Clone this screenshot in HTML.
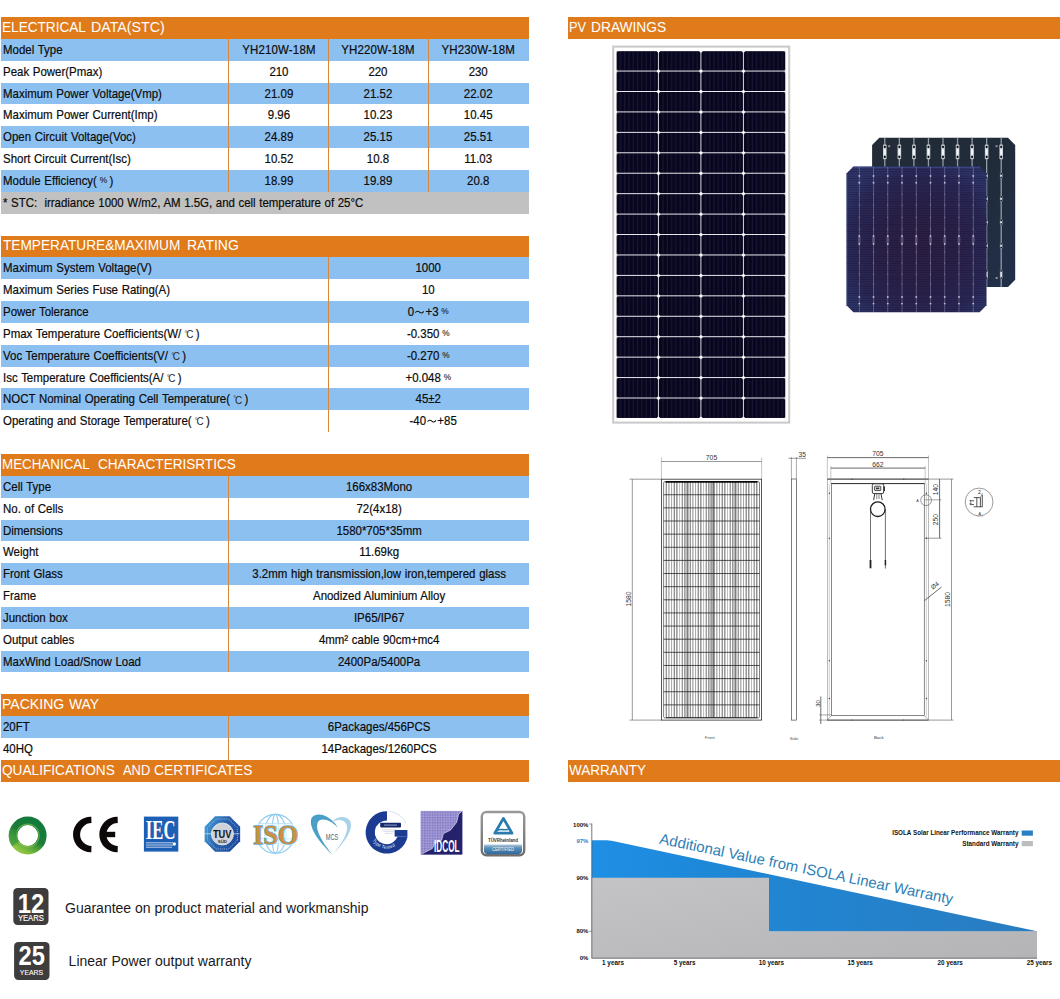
<!DOCTYPE html>
<html><head><meta charset="utf-8"><title>PV Datasheet</title>
<style>
html,body{margin:0;padding:0;background:#fff}
body{width:1060px;height:999px;position:relative;overflow:hidden;font-family:"Liberation Sans",sans-serif;color:#111}
.b{position:absolute}
.h{position:absolute;height:21.85px;line-height:21.85px;background:#E07B1C;color:#fff;font-size:14px;white-space:nowrap}
.h span{display:block;position:absolute;transform-origin:0 50%;top:-0.35px}
.t{position:absolute;height:21.85px;line-height:21.85px;font-size:12.2px;white-space:nowrap;word-spacing:0.55px;color:#0c0c0c;margin-top:1px;-webkit-text-stroke:0.2px #0c0c0c;transform:scaleX(0.940)}
.l{transform-origin:0 50%}
.c{text-align:center;transform-origin:50% 50%}
.deg{font-size:10.6px;-webkit-text-stroke:0;color:#2a2a2a;margin:0 2.5px 0 3.5px;position:relative;top:0.2px}
.deg i{font-style:normal;font-size:7.5px;position:relative;top:-2.2px;margin-right:-1.3px}
.pct{font-size:8.8px;margin-left:3px;-webkit-text-stroke:0.1px #222;color:#222;position:relative;top:-1.6px}
.til{display:inline-block;vertical-align:1.5px;margin:0 1px}
svg.a{position:absolute;overflow:visible}
.g{position:absolute;white-space:nowrap;font-size:14px;color:#1a1a1a}
</style></head><body>
<div class="h" style="left:1.00px;top:17.00px;width:527.70px"><span style="left:1.01px;transform:scaleX(0.9711)">ELECTRICAL</span><span style="left:90.26px;transform:scaleX(1.0152)">DATA(STC)</span></div>
<div class="b" style="left:1.00px;top:38.85px;width:527.70px;height:21.85px;background:#8CC0F0"></div>
<div class="t l" style="left:2.7px;top:38.85px">Model Type</div>
<div class="t c" style="left:228.50px;top:38.85px;width:99.90px"><span style="letter-spacing:0.17px">YH210W-18M</span></div>
<div class="t c" style="left:328.40px;top:38.85px;width:99.90px"><span style="letter-spacing:0.17px">YH220W-18M</span></div>
<div class="t c" style="left:428.30px;top:38.85px;width:100.40px"><span style="letter-spacing:0.17px">YH230W-18M</span></div>
<div class="t l" style="left:2.7px;top:60.70px">Peak Power(Pmax)</div>
<div class="t c" style="left:228.50px;top:60.70px;width:99.90px">210</div>
<div class="t c" style="left:328.40px;top:60.70px;width:99.90px">220</div>
<div class="t c" style="left:428.30px;top:60.70px;width:100.40px">230</div>
<div class="b" style="left:1.00px;top:82.55px;width:527.70px;height:21.85px;background:#8CC0F0"></div>
<div class="t l" style="left:2.7px;top:82.55px">Maximum Power Voltage(Vmp)</div>
<div class="t c" style="left:228.50px;top:82.55px;width:99.90px">21.09</div>
<div class="t c" style="left:328.40px;top:82.55px;width:99.90px">21.52</div>
<div class="t c" style="left:428.30px;top:82.55px;width:100.40px">22.02</div>
<div class="t l" style="left:2.7px;top:104.40px">Maximum Power Current(Imp)</div>
<div class="t c" style="left:228.50px;top:104.40px;width:99.90px">9.96</div>
<div class="t c" style="left:328.40px;top:104.40px;width:99.90px">10.23</div>
<div class="t c" style="left:428.30px;top:104.40px;width:100.40px">10.45</div>
<div class="b" style="left:1.00px;top:126.25px;width:527.70px;height:21.85px;background:#8CC0F0"></div>
<div class="t l" style="left:2.7px;top:126.25px">Open Circuit Voltage(Voc)</div>
<div class="t c" style="left:228.50px;top:126.25px;width:99.90px">24.89</div>
<div class="t c" style="left:328.40px;top:126.25px;width:99.90px">25.15</div>
<div class="t c" style="left:428.30px;top:126.25px;width:100.40px">25.51</div>
<div class="t l" style="left:2.7px;top:148.10px">Short Circuit Current(Isc)</div>
<div class="t c" style="left:228.50px;top:148.10px;width:99.90px">10.52</div>
<div class="t c" style="left:328.40px;top:148.10px;width:99.90px">10.8</div>
<div class="t c" style="left:428.30px;top:148.10px;width:100.40px">11.03</div>
<div class="b" style="left:1.00px;top:169.95px;width:527.70px;height:21.85px;background:#8CC0F0"></div>
<div class="t l" style="left:2.7px;top:169.95px">Module Efficiency(<span class="pct">%</span>&#8201;)</div>
<div class="t c" style="left:228.50px;top:169.95px;width:99.90px">18.99</div>
<div class="t c" style="left:328.40px;top:169.95px;width:99.90px">19.89</div>
<div class="t c" style="left:428.30px;top:169.95px;width:100.40px">20.8</div>
<div class="b" style="left:227.90px;top:38.85px;width:1.20px;height:152.95px;background:#D9873A"></div>
<div class="b" style="left:327.80px;top:38.85px;width:1.20px;height:152.95px;background:#D9873A"></div>
<div class="b" style="left:427.70px;top:38.85px;width:1.20px;height:152.95px;background:#D9873A"></div>
<div class="b" style="left:1.00px;top:191.80px;width:527.70px;height:21.85px;background:#C1C1C1"></div>
<div class="t l" style="left:2.5px;top:191.80px;transform:scaleX(0.938);word-spacing:0.5px">* STC:&nbsp; irradiance 1000 W/m2, AM 1.5G, and cell temperature of 25&#176;C</div>
<div class="h" style="left:1.00px;top:235.50px;width:527.70px"><span style="left:1.73px;transform:scaleX(0.9753)">TEMPERATURE&amp;MAXIMUM</span><span style="left:186.48px;transform:scaleX(0.9995)">RATING</span></div>
<div class="b" style="left:1.00px;top:257.35px;width:527.70px;height:21.85px;background:#8CC0F0"></div>
<div class="t l" style="left:2.7px;top:257.35px">Maximum System Voltage(V)</div>
<div class="t c" style="left:328.20px;top:257.35px;width:200.50px">1000</div>
<div class="t l" style="left:2.7px;top:279.20px">Maximum Series Fuse Rating(A)</div>
<div class="t c" style="left:328.20px;top:279.20px;width:200.50px">10</div>
<div class="b" style="left:1.00px;top:301.05px;width:527.70px;height:21.85px;background:#8CC0F0"></div>
<div class="t l" style="left:2.7px;top:301.05px">Power Tolerance</div>
<div class="t c" style="left:328.20px;top:301.05px;width:200.50px">0<svg class="til" width="10" height="6" viewBox="0 0 10 6"><path d="M0.5 3.7C2 1.8 3.6 1.9 5 3.1S8 4.4 9.5 2.4" stroke="#111" stroke-width="1.05" fill="none"/></svg>+3<span class="pct">%</span></div>
<div class="t l" style="left:2.7px;top:322.90px">Pmax Temperature Coefficients(W/<span class="deg"><i>&#176;</i>C</span>)</div>
<div class="t c" style="left:328.20px;top:322.90px;width:200.50px">-0.350<span class="pct">%</span></div>
<div class="b" style="left:1.00px;top:344.75px;width:527.70px;height:21.85px;background:#8CC0F0"></div>
<div class="t l" style="left:2.7px;top:344.75px">Voc Temperature Coefficients(V/<span class="deg"><i>&#176;</i>C</span>)</div>
<div class="t c" style="left:328.20px;top:344.75px;width:200.50px">-0.270<span class="pct">%</span></div>
<div class="t l" style="left:2.7px;top:366.60px">Isc Temperature Coefficients(A/<span class="deg"><i>&#176;</i>C</span>)</div>
<div class="t c" style="left:328.20px;top:366.60px;width:200.50px">+0.048<span class="pct">%</span></div>
<div class="b" style="left:1.00px;top:388.45px;width:527.70px;height:21.85px;background:#8CC0F0"></div>
<div class="t l" style="left:2.7px;top:388.45px">NOCT Nominal Operating Cell Temperature(<span class="deg"><i>&#176;</i>C</span>)</div>
<div class="t c" style="left:328.20px;top:388.45px;width:200.50px">45&#177;2</div>
<div class="t l" style="left:2.7px;top:410.30px">Operating and Storage Temperature(<span class="deg"><i>&#176;</i>C</span>)</div>
<div class="t c" style="left:328.20px;top:410.30px;width:200.50px"><span style="padding-left:10.4px">-40<svg class="til" width="10" height="6" viewBox="0 0 10 6"><path d="M0.5 3.7C2 1.8 3.6 1.9 5 3.1S8 4.4 9.5 2.4" stroke="#111" stroke-width="1.05" fill="none"/></svg>+85</span></div>
<div class="b" style="left:327.60px;top:257.35px;width:1.20px;height:174.80px;background:#D9873A"></div>
<div class="h" style="left:1.00px;top:454.00px;width:527.70px"><span style="left:1.03px;transform:scaleX(0.9551)">MECHANICAL</span><span style="left:96.57px;transform:scaleX(0.9698)">CHARACTERISRTICS</span></div>
<div class="b" style="left:1.00px;top:475.85px;width:527.70px;height:21.85px;background:#8CC0F0"></div>
<div class="t l" style="left:2.7px;top:475.85px">Cell Type</div>
<div class="t c" style="left:228.50px;top:475.85px;width:300.20px">166x83Mono</div>
<div class="t l" style="left:2.7px;top:497.70px">No. of Cells</div>
<div class="t c" style="left:228.50px;top:497.70px;width:300.20px">72(4x18)</div>
<div class="b" style="left:1.00px;top:519.55px;width:527.70px;height:21.85px;background:#8CC0F0"></div>
<div class="t l" style="left:2.7px;top:519.55px">Dimensions</div>
<div class="t c" style="left:228.50px;top:519.55px;width:300.20px">1580*705*35mm</div>
<div class="t l" style="left:2.7px;top:541.40px">Weight</div>
<div class="t c" style="left:228.50px;top:541.40px;width:300.20px">11.69kg</div>
<div class="b" style="left:1.00px;top:563.25px;width:527.70px;height:21.85px;background:#8CC0F0"></div>
<div class="t l" style="left:2.7px;top:563.25px">Front Glass</div>
<div class="t c" style="left:228.50px;top:563.25px;width:300.20px">3.2mm high transmission,low iron,tempered glass</div>
<div class="t l" style="left:2.7px;top:585.10px">Frame</div>
<div class="t c" style="left:228.50px;top:585.10px;width:300.20px">Anodized Aluminium Alloy</div>
<div class="b" style="left:1.00px;top:606.95px;width:527.70px;height:21.85px;background:#8CC0F0"></div>
<div class="t l" style="left:2.7px;top:606.95px">Junction box</div>
<div class="t c" style="left:228.50px;top:606.95px;width:300.20px">IP65/IP67</div>
<div class="t l" style="left:2.7px;top:628.80px">Output cables</div>
<div class="t c" style="left:228.50px;top:628.80px;width:300.20px">4mm&#178; cable 90cm+mc4</div>
<div class="b" style="left:1.00px;top:650.65px;width:527.70px;height:21.85px;background:#8CC0F0"></div>
<div class="t l" style="left:2.7px;top:650.65px">MaxWind Load/Snow Load</div>
<div class="t c" style="left:228.50px;top:650.65px;width:300.20px">2400Pa/5400Pa</div>
<div class="b" style="left:227.90px;top:475.85px;width:1.20px;height:196.65px;background:#D9873A"></div>
<div class="h" style="left:1.00px;top:694.35px;width:527.70px"><span style="left:0.97px;transform:scaleX(1.0042)">PACKING</span><span style="left:67.78px;transform:scaleX(0.9941)">WAY</span></div>
<div class="b" style="left:1.00px;top:716.20px;width:527.70px;height:21.85px;background:#8CC0F0"></div>
<div class="t l" style="left:2.7px;top:716.20px">20FT</div>
<div class="t c" style="left:228.50px;top:716.20px;width:300.20px">6Packages/456PCS</div>
<div class="t l" style="left:2.7px;top:738.05px">40HQ</div>
<div class="t c" style="left:228.50px;top:738.05px;width:300.20px">14Packages/1260PCS</div>
<div class="b" style="left:227.90px;top:716.20px;width:1.20px;height:43.70px;background:#D9873A"></div>
<div class="h" style="left:1.00px;top:759.90px;width:527.70px"><span style="left:1.49px;transform:scaleX(0.9749)">QUALIFICATIONS</span><span style="left:121.80px;transform:scaleX(0.9212)">AND</span><span style="left:153.46px;transform:scaleX(0.9868)">CERTIFICATES</span></div>
<div class="h" style="left:567.50px;top:17.00px;width:492.50px"><span style="left:1.87px;transform:scaleX(0.9143)">PV</span><span style="left:23.89px;transform:scaleX(0.9833)">DRAWINGS</span></div>
<div class="h" style="left:567.50px;top:759.90px;width:492.50px"><span style="left:1.98px;transform:scaleX(0.9668)">WARRANTY</span></div>
<svg class="a" style="left:0;top:0" width="1060" height="440" viewBox="0 0 1060 440">
<defs><pattern id="pc" x="616.40" y="51.10" width="42.500" height="20.435" patternUnits="userSpaceOnUse">
<rect x="0" y="0" width="41.60" height="19.58" rx="1.6" fill="#07061d"/>
<rect x="3.60" y="0.4" width="0.9" height="18.73" fill="#1b1a3c"/>
<rect x="7.90" y="0.4" width="0.9" height="18.73" fill="#1b1a3c"/>
<rect x="12.20" y="0.4" width="0.9" height="18.73" fill="#1b1a3c"/>
<rect x="16.50" y="0.4" width="0.9" height="18.73" fill="#1b1a3c"/>
<rect x="20.80" y="0.4" width="0.9" height="18.73" fill="#1b1a3c"/>
<rect x="25.10" y="0.4" width="0.9" height="18.73" fill="#1b1a3c"/>
<rect x="29.40" y="0.4" width="0.9" height="18.73" fill="#1b1a3c"/>
<rect x="33.70" y="0.4" width="0.9" height="18.73" fill="#1b1a3c"/>
<rect x="38.00" y="0.4" width="0.9" height="18.73" fill="#1b1a3c"/>
</pattern></defs>
<rect x="613.2" y="46.6" width="176" height="376" fill="#fff" stroke="#c9c9c9" stroke-width="2"/>
<rect x="616.40" y="51.10" width="169.10" height="366.98" fill="#eeeef4"/>
<rect x="616.40" y="51.10" width="169.10" height="366.98" fill="url(#pc)"/>
<path d="M658.45 69.41l1.9 1.7l-1.9 1.7l-1.9 -1.7zM658.45 89.85l1.9 1.7l-1.9 1.7l-1.9 -1.7zM658.45 110.28l1.9 1.7l-1.9 1.7l-1.9 -1.7zM658.45 130.72l1.9 1.7l-1.9 1.7l-1.9 -1.7zM658.45 151.16l1.9 1.7l-1.9 1.7l-1.9 -1.7zM658.45 171.59l1.9 1.7l-1.9 1.7l-1.9 -1.7zM658.45 192.03l1.9 1.7l-1.9 1.7l-1.9 -1.7zM658.45 212.46l1.9 1.7l-1.9 1.7l-1.9 -1.7zM658.45 232.90l1.9 1.7l-1.9 1.7l-1.9 -1.7zM658.45 253.33l1.9 1.7l-1.9 1.7l-1.9 -1.7zM658.45 273.76l1.9 1.7l-1.9 1.7l-1.9 -1.7zM658.45 294.20l1.9 1.7l-1.9 1.7l-1.9 -1.7zM658.45 314.63l1.9 1.7l-1.9 1.7l-1.9 -1.7zM658.45 335.07l1.9 1.7l-1.9 1.7l-1.9 -1.7zM658.45 355.50l1.9 1.7l-1.9 1.7l-1.9 -1.7zM658.45 375.94l1.9 1.7l-1.9 1.7l-1.9 -1.7zM658.45 396.38l1.9 1.7l-1.9 1.7l-1.9 -1.7zM658.45 51.10l1.6 0l-1.6 1.6l-1.6 -1.6zM658.45 418.08l1.6 0l-1.6 -1.6l-1.6 1.6zM700.95 69.41l1.9 1.7l-1.9 1.7l-1.9 -1.7zM700.95 89.85l1.9 1.7l-1.9 1.7l-1.9 -1.7zM700.95 110.28l1.9 1.7l-1.9 1.7l-1.9 -1.7zM700.95 130.72l1.9 1.7l-1.9 1.7l-1.9 -1.7zM700.95 151.16l1.9 1.7l-1.9 1.7l-1.9 -1.7zM700.95 171.59l1.9 1.7l-1.9 1.7l-1.9 -1.7zM700.95 192.03l1.9 1.7l-1.9 1.7l-1.9 -1.7zM700.95 212.46l1.9 1.7l-1.9 1.7l-1.9 -1.7zM700.95 232.90l1.9 1.7l-1.9 1.7l-1.9 -1.7zM700.95 253.33l1.9 1.7l-1.9 1.7l-1.9 -1.7zM700.95 273.76l1.9 1.7l-1.9 1.7l-1.9 -1.7zM700.95 294.20l1.9 1.7l-1.9 1.7l-1.9 -1.7zM700.95 314.63l1.9 1.7l-1.9 1.7l-1.9 -1.7zM700.95 335.07l1.9 1.7l-1.9 1.7l-1.9 -1.7zM700.95 355.50l1.9 1.7l-1.9 1.7l-1.9 -1.7zM700.95 375.94l1.9 1.7l-1.9 1.7l-1.9 -1.7zM700.95 396.38l1.9 1.7l-1.9 1.7l-1.9 -1.7zM700.95 51.10l1.6 0l-1.6 1.6l-1.6 -1.6zM700.95 418.08l1.6 0l-1.6 -1.6l-1.6 1.6zM743.45 69.41l1.9 1.7l-1.9 1.7l-1.9 -1.7zM743.45 89.85l1.9 1.7l-1.9 1.7l-1.9 -1.7zM743.45 110.28l1.9 1.7l-1.9 1.7l-1.9 -1.7zM743.45 130.72l1.9 1.7l-1.9 1.7l-1.9 -1.7zM743.45 151.16l1.9 1.7l-1.9 1.7l-1.9 -1.7zM743.45 171.59l1.9 1.7l-1.9 1.7l-1.9 -1.7zM743.45 192.03l1.9 1.7l-1.9 1.7l-1.9 -1.7zM743.45 212.46l1.9 1.7l-1.9 1.7l-1.9 -1.7zM743.45 232.90l1.9 1.7l-1.9 1.7l-1.9 -1.7zM743.45 253.33l1.9 1.7l-1.9 1.7l-1.9 -1.7zM743.45 273.76l1.9 1.7l-1.9 1.7l-1.9 -1.7zM743.45 294.20l1.9 1.7l-1.9 1.7l-1.9 -1.7zM743.45 314.63l1.9 1.7l-1.9 1.7l-1.9 -1.7zM743.45 335.07l1.9 1.7l-1.9 1.7l-1.9 -1.7zM743.45 355.50l1.9 1.7l-1.9 1.7l-1.9 -1.7zM743.45 375.94l1.9 1.7l-1.9 1.7l-1.9 -1.7zM743.45 396.38l1.9 1.7l-1.9 1.7l-1.9 -1.7zM743.45 51.10l1.6 0l-1.6 1.6l-1.6 -1.6zM743.45 418.08l1.6 0l-1.6 -1.6l-1.6 1.6z" fill="#fff"/>
</svg>
<svg class="a" style="left:0;top:0" width="1060" height="440" viewBox="0 0 1060 440">
<defs>
<linearGradient id="bk" x1="0" y1="0" x2="1" y2="1"><stop offset="0" stop-color="#232c37"/><stop offset="0.5" stop-color="#202b3a"/><stop offset="1" stop-color="#222f4a"/></linearGradient>
<radialGradient id="fr" cx="0.52" cy="0.55" r="0.62"><stop offset="0" stop-color="#2c1d42"/><stop offset="0.45" stop-color="#2a2048"/><stop offset="0.8" stop-color="#292756"/><stop offset="1" stop-color="#2d3367"/></radialGradient>
<pattern id="fing" x="0" y="166.6" width="10" height="2.3" patternUnits="userSpaceOnUse"><rect x="0" y="0" width="10" height="0.8" fill="#15102c" opacity="0.35"/></pattern>
<clipPath id="fclip"><path d="M853.4 166.6H979.6L986.5 173.6V305.2L979.6 312.3H853.4L846.5 305.2V173.6Z"/></clipPath>
</defs>
<path d="M879.3 137.7H1008.0L1015.2 144.9V279.8L1008.0 287.0H879.3L872.1 279.8V144.9Z" fill="url(#bk)"/>
<rect x="884.15" y="137.7" width="1.3" height="149.3" fill="#9da7af" opacity="0.9"/>
<rect x="883.00" y="144.6" width="3.6" height="14.6" rx="0.8" fill="#c4cbd0"/>
<rect x="883.80" y="149.2" width="2" height="5.6" fill="#f4f6f7"/>
<circle cx="884.80" cy="146.9" r="1.05" fill="#0b0f14"/><circle cx="884.80" cy="156.9" r="1.05" fill="#0b0f14"/>
<rect x="898.70" y="137.7" width="1.3" height="149.3" fill="#9da7af" opacity="0.9"/>
<rect x="897.55" y="144.6" width="3.6" height="14.6" rx="0.8" fill="#c4cbd0"/>
<rect x="898.35" y="149.2" width="2" height="5.6" fill="#f4f6f7"/>
<circle cx="899.35" cy="146.9" r="1.05" fill="#0b0f14"/><circle cx="899.35" cy="156.9" r="1.05" fill="#0b0f14"/>
<rect x="913.25" y="137.7" width="1.3" height="149.3" fill="#9da7af" opacity="0.9"/>
<rect x="912.10" y="144.6" width="3.6" height="14.6" rx="0.8" fill="#c4cbd0"/>
<rect x="912.90" y="149.2" width="2" height="5.6" fill="#f4f6f7"/>
<circle cx="913.90" cy="146.9" r="1.05" fill="#0b0f14"/><circle cx="913.90" cy="156.9" r="1.05" fill="#0b0f14"/>
<rect x="927.80" y="137.7" width="1.3" height="149.3" fill="#9da7af" opacity="0.9"/>
<rect x="926.65" y="144.6" width="3.6" height="14.6" rx="0.8" fill="#c4cbd0"/>
<rect x="927.45" y="149.2" width="2" height="5.6" fill="#f4f6f7"/>
<circle cx="928.45" cy="146.9" r="1.05" fill="#0b0f14"/><circle cx="928.45" cy="156.9" r="1.05" fill="#0b0f14"/>
<rect x="942.35" y="137.7" width="1.3" height="149.3" fill="#9da7af" opacity="0.9"/>
<rect x="941.20" y="144.6" width="3.6" height="14.6" rx="0.8" fill="#c4cbd0"/>
<rect x="942.00" y="149.2" width="2" height="5.6" fill="#f4f6f7"/>
<circle cx="943.00" cy="146.9" r="1.05" fill="#0b0f14"/><circle cx="943.00" cy="156.9" r="1.05" fill="#0b0f14"/>
<rect x="956.90" y="137.7" width="1.3" height="149.3" fill="#9da7af" opacity="0.9"/>
<rect x="955.75" y="144.6" width="3.6" height="14.6" rx="0.8" fill="#c4cbd0"/>
<rect x="956.55" y="149.2" width="2" height="5.6" fill="#f4f6f7"/>
<circle cx="957.55" cy="146.9" r="1.05" fill="#0b0f14"/><circle cx="957.55" cy="156.9" r="1.05" fill="#0b0f14"/>
<rect x="971.45" y="137.7" width="1.3" height="149.3" fill="#9da7af" opacity="0.9"/>
<rect x="970.30" y="144.6" width="3.6" height="14.6" rx="0.8" fill="#c4cbd0"/>
<rect x="971.10" y="149.2" width="2" height="5.6" fill="#f4f6f7"/>
<circle cx="972.10" cy="146.9" r="1.05" fill="#0b0f14"/><circle cx="972.10" cy="156.9" r="1.05" fill="#0b0f14"/>
<rect x="986.00" y="137.7" width="1.3" height="149.3" fill="#9da7af" opacity="0.9"/>
<rect x="984.85" y="144.6" width="3.6" height="14.6" rx="0.8" fill="#c4cbd0"/>
<rect x="985.65" y="149.2" width="2" height="5.6" fill="#f4f6f7"/>
<circle cx="986.65" cy="146.9" r="1.05" fill="#0b0f14"/><circle cx="986.65" cy="156.9" r="1.05" fill="#0b0f14"/>
<rect x="985.35" y="173.0" width="2.6" height="5.4" rx="0.7" fill="#98a2aa"/>
<rect x="985.95" y="174.7" width="1.4" height="2.0" fill="#dfe4e8"/>
<circle cx="986.65" cy="173.9" r="0.8" fill="#0b0f14"/><circle cx="986.65" cy="177.5" r="0.8" fill="#0b0f14"/>
<rect x="985.35" y="196.0" width="2.6" height="5.4" rx="0.7" fill="#98a2aa"/>
<rect x="985.95" y="197.7" width="1.4" height="2.0" fill="#dfe4e8"/>
<circle cx="986.65" cy="196.9" r="0.8" fill="#0b0f14"/><circle cx="986.65" cy="200.5" r="0.8" fill="#0b0f14"/>
<rect x="985.35" y="219.5" width="2.6" height="5.4" rx="0.7" fill="#98a2aa"/>
<rect x="985.95" y="221.2" width="1.4" height="2.0" fill="#dfe4e8"/>
<circle cx="986.65" cy="220.4" r="0.8" fill="#0b0f14"/><circle cx="986.65" cy="224.0" r="0.8" fill="#0b0f14"/>
<rect x="985.35" y="243.0" width="2.6" height="5.4" rx="0.7" fill="#98a2aa"/>
<rect x="985.95" y="244.7" width="1.4" height="2.0" fill="#dfe4e8"/>
<circle cx="986.65" cy="243.9" r="0.8" fill="#0b0f14"/><circle cx="986.65" cy="247.5" r="0.8" fill="#0b0f14"/>
<rect x="985.35" y="270.0" width="2.6" height="9.0" rx="0.7" fill="#98a2aa"/>
<rect x="985.95" y="271.7" width="1.4" height="5.6" fill="#dfe4e8"/>
<circle cx="986.65" cy="270.9" r="0.8" fill="#0b0f14"/><circle cx="986.65" cy="278.1" r="0.8" fill="#0b0f14"/>
<rect x="1000.55" y="137.7" width="1.3" height="149.3" fill="#9da7af" opacity="0.9"/>
<rect x="999.40" y="144.6" width="3.6" height="14.6" rx="0.8" fill="#c4cbd0"/>
<rect x="1000.20" y="149.2" width="2" height="5.6" fill="#f4f6f7"/>
<circle cx="1001.20" cy="146.9" r="1.05" fill="#0b0f14"/><circle cx="1001.20" cy="156.9" r="1.05" fill="#0b0f14"/>
<rect x="999.90" y="173.0" width="2.6" height="5.4" rx="0.7" fill="#98a2aa"/>
<rect x="1000.50" y="174.7" width="1.4" height="2.0" fill="#dfe4e8"/>
<circle cx="1001.20" cy="173.9" r="0.8" fill="#0b0f14"/><circle cx="1001.20" cy="177.5" r="0.8" fill="#0b0f14"/>
<rect x="999.90" y="196.0" width="2.6" height="5.4" rx="0.7" fill="#98a2aa"/>
<rect x="1000.50" y="197.7" width="1.4" height="2.0" fill="#dfe4e8"/>
<circle cx="1001.20" cy="196.9" r="0.8" fill="#0b0f14"/><circle cx="1001.20" cy="200.5" r="0.8" fill="#0b0f14"/>
<rect x="999.90" y="219.5" width="2.6" height="5.4" rx="0.7" fill="#98a2aa"/>
<rect x="1000.50" y="221.2" width="1.4" height="2.0" fill="#dfe4e8"/>
<circle cx="1001.20" cy="220.4" r="0.8" fill="#0b0f14"/><circle cx="1001.20" cy="224.0" r="0.8" fill="#0b0f14"/>
<rect x="999.90" y="243.0" width="2.6" height="5.4" rx="0.7" fill="#98a2aa"/>
<rect x="1000.50" y="244.7" width="1.4" height="2.0" fill="#dfe4e8"/>
<circle cx="1001.20" cy="243.9" r="0.8" fill="#0b0f14"/><circle cx="1001.20" cy="247.5" r="0.8" fill="#0b0f14"/>
<rect x="999.90" y="270.0" width="2.6" height="9.0" rx="0.7" fill="#98a2aa"/>
<rect x="1000.50" y="271.7" width="1.4" height="5.6" fill="#dfe4e8"/>
<circle cx="1001.20" cy="270.9" r="0.8" fill="#0b0f14"/><circle cx="1001.20" cy="278.1" r="0.8" fill="#0b0f14"/>
<rect x="888.2" y="145.2" width="2" height="2" fill="#8a949c"/><rect x="995.6" y="145.2" width="2" height="2" fill="#8a949c"/><rect x="995.6" y="277" width="2" height="2" fill="#8a949c"/>
<path d="M853.4 166.6H979.6L986.5 173.6V305.2L979.6 312.3H853.4L846.5 305.2V173.6Z" fill="url(#fr)"/>
<g clip-path="url(#fclip)">
<rect x="846" y="166" width="142" height="147" fill="url(#fing)"/>
<rect x="846" y="166.4" width="142" height="1.6" fill="#46549a" opacity="0.55"/>
<rect x="846.3" y="166" width="1.4" height="147" fill="#3b4a8c" opacity="0.55"/>
<rect x="858.90" y="166.6" width="0.8" height="145.7" fill="#a8a3cc" opacity="0.5"/>
<circle cx="859.30" cy="176.0" r="0.95" fill="#d9d6ee" opacity="0.8"/>
<circle cx="859.30" cy="182.8" r="0.95" fill="#d9d6ee" opacity="0.8"/>
<circle cx="859.30" cy="194.0" r="0.60" fill="#d9d6ee" opacity="0.45"/>
<circle cx="859.30" cy="205.0" r="0.60" fill="#d9d6ee" opacity="0.45"/>
<circle cx="859.30" cy="217.5" r="0.60" fill="#d9d6ee" opacity="0.45"/>
<circle cx="859.30" cy="229.0" r="0.60" fill="#d9d6ee" opacity="0.45"/>
<circle cx="859.30" cy="236.0" r="0.95" fill="#d9d6ee" opacity="0.8"/>
<circle cx="859.30" cy="244.0" r="0.95" fill="#d9d6ee" opacity="0.8"/>
<circle cx="859.30" cy="252.0" r="0.60" fill="#d9d6ee" opacity="0.45"/>
<circle cx="859.30" cy="263.0" r="0.60" fill="#d9d6ee" opacity="0.45"/>
<circle cx="859.30" cy="274.0" r="0.60" fill="#d9d6ee" opacity="0.45"/>
<circle cx="859.30" cy="284.0" r="0.60" fill="#d9d6ee" opacity="0.45"/>
<circle cx="859.30" cy="297.0" r="0.95" fill="#d9d6ee" opacity="0.8"/>
<circle cx="859.30" cy="303.6" r="0.95" fill="#d9d6ee" opacity="0.8"/>
<rect x="858.40" y="237" width="1.8" height="6" rx="0.6" fill="none" stroke="#b7b3d6" stroke-width="0.4" opacity="0.8"/>
<rect x="873.14" y="166.6" width="0.8" height="145.7" fill="#a8a3cc" opacity="0.5"/>
<circle cx="873.54" cy="176.0" r="0.95" fill="#d9d6ee" opacity="0.8"/>
<circle cx="873.54" cy="182.8" r="0.95" fill="#d9d6ee" opacity="0.8"/>
<circle cx="873.54" cy="194.0" r="0.60" fill="#d9d6ee" opacity="0.45"/>
<circle cx="873.54" cy="205.0" r="0.60" fill="#d9d6ee" opacity="0.45"/>
<circle cx="873.54" cy="217.5" r="0.60" fill="#d9d6ee" opacity="0.45"/>
<circle cx="873.54" cy="229.0" r="0.60" fill="#d9d6ee" opacity="0.45"/>
<circle cx="873.54" cy="236.0" r="0.95" fill="#d9d6ee" opacity="0.8"/>
<circle cx="873.54" cy="244.0" r="0.95" fill="#d9d6ee" opacity="0.8"/>
<circle cx="873.54" cy="252.0" r="0.60" fill="#d9d6ee" opacity="0.45"/>
<circle cx="873.54" cy="263.0" r="0.60" fill="#d9d6ee" opacity="0.45"/>
<circle cx="873.54" cy="274.0" r="0.60" fill="#d9d6ee" opacity="0.45"/>
<circle cx="873.54" cy="284.0" r="0.60" fill="#d9d6ee" opacity="0.45"/>
<circle cx="873.54" cy="297.0" r="0.95" fill="#d9d6ee" opacity="0.8"/>
<circle cx="873.54" cy="303.6" r="0.95" fill="#d9d6ee" opacity="0.8"/>
<rect x="872.64" y="237" width="1.8" height="6" rx="0.6" fill="none" stroke="#b7b3d6" stroke-width="0.4" opacity="0.8"/>
<rect x="887.38" y="166.6" width="0.8" height="145.7" fill="#a8a3cc" opacity="0.5"/>
<circle cx="887.78" cy="176.0" r="0.95" fill="#d9d6ee" opacity="0.8"/>
<circle cx="887.78" cy="182.8" r="0.95" fill="#d9d6ee" opacity="0.8"/>
<circle cx="887.78" cy="194.0" r="0.60" fill="#d9d6ee" opacity="0.45"/>
<circle cx="887.78" cy="205.0" r="0.60" fill="#d9d6ee" opacity="0.45"/>
<circle cx="887.78" cy="217.5" r="0.60" fill="#d9d6ee" opacity="0.45"/>
<circle cx="887.78" cy="229.0" r="0.60" fill="#d9d6ee" opacity="0.45"/>
<circle cx="887.78" cy="236.0" r="0.95" fill="#d9d6ee" opacity="0.8"/>
<circle cx="887.78" cy="244.0" r="0.95" fill="#d9d6ee" opacity="0.8"/>
<circle cx="887.78" cy="252.0" r="0.60" fill="#d9d6ee" opacity="0.45"/>
<circle cx="887.78" cy="263.0" r="0.60" fill="#d9d6ee" opacity="0.45"/>
<circle cx="887.78" cy="274.0" r="0.60" fill="#d9d6ee" opacity="0.45"/>
<circle cx="887.78" cy="284.0" r="0.60" fill="#d9d6ee" opacity="0.45"/>
<circle cx="887.78" cy="297.0" r="0.95" fill="#d9d6ee" opacity="0.8"/>
<circle cx="887.78" cy="303.6" r="0.95" fill="#d9d6ee" opacity="0.8"/>
<rect x="886.88" y="237" width="1.8" height="6" rx="0.6" fill="none" stroke="#b7b3d6" stroke-width="0.4" opacity="0.8"/>
<rect x="901.62" y="166.6" width="0.8" height="145.7" fill="#a8a3cc" opacity="0.5"/>
<circle cx="902.02" cy="176.0" r="0.95" fill="#d9d6ee" opacity="0.8"/>
<circle cx="902.02" cy="182.8" r="0.95" fill="#d9d6ee" opacity="0.8"/>
<circle cx="902.02" cy="194.0" r="0.60" fill="#d9d6ee" opacity="0.45"/>
<circle cx="902.02" cy="205.0" r="0.60" fill="#d9d6ee" opacity="0.45"/>
<circle cx="902.02" cy="217.5" r="0.60" fill="#d9d6ee" opacity="0.45"/>
<circle cx="902.02" cy="229.0" r="0.60" fill="#d9d6ee" opacity="0.45"/>
<circle cx="902.02" cy="236.0" r="0.95" fill="#d9d6ee" opacity="0.8"/>
<circle cx="902.02" cy="244.0" r="0.95" fill="#d9d6ee" opacity="0.8"/>
<circle cx="902.02" cy="252.0" r="0.60" fill="#d9d6ee" opacity="0.45"/>
<circle cx="902.02" cy="263.0" r="0.60" fill="#d9d6ee" opacity="0.45"/>
<circle cx="902.02" cy="274.0" r="0.60" fill="#d9d6ee" opacity="0.45"/>
<circle cx="902.02" cy="284.0" r="0.60" fill="#d9d6ee" opacity="0.45"/>
<circle cx="902.02" cy="297.0" r="0.95" fill="#d9d6ee" opacity="0.8"/>
<circle cx="902.02" cy="303.6" r="0.95" fill="#d9d6ee" opacity="0.8"/>
<rect x="901.12" y="237" width="1.8" height="6" rx="0.6" fill="none" stroke="#b7b3d6" stroke-width="0.4" opacity="0.8"/>
<rect x="915.86" y="166.6" width="0.8" height="145.7" fill="#a8a3cc" opacity="0.5"/>
<circle cx="916.26" cy="176.0" r="0.95" fill="#d9d6ee" opacity="0.8"/>
<circle cx="916.26" cy="182.8" r="0.95" fill="#d9d6ee" opacity="0.8"/>
<circle cx="916.26" cy="194.0" r="0.60" fill="#d9d6ee" opacity="0.45"/>
<circle cx="916.26" cy="205.0" r="0.60" fill="#d9d6ee" opacity="0.45"/>
<circle cx="916.26" cy="217.5" r="0.60" fill="#d9d6ee" opacity="0.45"/>
<circle cx="916.26" cy="229.0" r="0.60" fill="#d9d6ee" opacity="0.45"/>
<circle cx="916.26" cy="236.0" r="0.95" fill="#d9d6ee" opacity="0.8"/>
<circle cx="916.26" cy="244.0" r="0.95" fill="#d9d6ee" opacity="0.8"/>
<circle cx="916.26" cy="252.0" r="0.60" fill="#d9d6ee" opacity="0.45"/>
<circle cx="916.26" cy="263.0" r="0.60" fill="#d9d6ee" opacity="0.45"/>
<circle cx="916.26" cy="274.0" r="0.60" fill="#d9d6ee" opacity="0.45"/>
<circle cx="916.26" cy="284.0" r="0.60" fill="#d9d6ee" opacity="0.45"/>
<circle cx="916.26" cy="297.0" r="0.95" fill="#d9d6ee" opacity="0.8"/>
<circle cx="916.26" cy="303.6" r="0.95" fill="#d9d6ee" opacity="0.8"/>
<rect x="915.36" y="237" width="1.8" height="6" rx="0.6" fill="none" stroke="#b7b3d6" stroke-width="0.4" opacity="0.8"/>
<rect x="930.10" y="166.6" width="0.8" height="145.7" fill="#a8a3cc" opacity="0.5"/>
<circle cx="930.50" cy="176.0" r="0.95" fill="#d9d6ee" opacity="0.8"/>
<circle cx="930.50" cy="182.8" r="0.95" fill="#d9d6ee" opacity="0.8"/>
<circle cx="930.50" cy="194.0" r="0.60" fill="#d9d6ee" opacity="0.45"/>
<circle cx="930.50" cy="205.0" r="0.60" fill="#d9d6ee" opacity="0.45"/>
<circle cx="930.50" cy="217.5" r="0.60" fill="#d9d6ee" opacity="0.45"/>
<circle cx="930.50" cy="229.0" r="0.60" fill="#d9d6ee" opacity="0.45"/>
<circle cx="930.50" cy="236.0" r="0.95" fill="#d9d6ee" opacity="0.8"/>
<circle cx="930.50" cy="244.0" r="0.95" fill="#d9d6ee" opacity="0.8"/>
<circle cx="930.50" cy="252.0" r="0.60" fill="#d9d6ee" opacity="0.45"/>
<circle cx="930.50" cy="263.0" r="0.60" fill="#d9d6ee" opacity="0.45"/>
<circle cx="930.50" cy="274.0" r="0.60" fill="#d9d6ee" opacity="0.45"/>
<circle cx="930.50" cy="284.0" r="0.60" fill="#d9d6ee" opacity="0.45"/>
<circle cx="930.50" cy="297.0" r="0.95" fill="#d9d6ee" opacity="0.8"/>
<circle cx="930.50" cy="303.6" r="0.95" fill="#d9d6ee" opacity="0.8"/>
<rect x="929.60" y="237" width="1.8" height="6" rx="0.6" fill="none" stroke="#b7b3d6" stroke-width="0.4" opacity="0.8"/>
<rect x="944.34" y="166.6" width="0.8" height="145.7" fill="#a8a3cc" opacity="0.5"/>
<circle cx="944.74" cy="176.0" r="0.95" fill="#d9d6ee" opacity="0.8"/>
<circle cx="944.74" cy="182.8" r="0.95" fill="#d9d6ee" opacity="0.8"/>
<circle cx="944.74" cy="194.0" r="0.60" fill="#d9d6ee" opacity="0.45"/>
<circle cx="944.74" cy="205.0" r="0.60" fill="#d9d6ee" opacity="0.45"/>
<circle cx="944.74" cy="217.5" r="0.60" fill="#d9d6ee" opacity="0.45"/>
<circle cx="944.74" cy="229.0" r="0.60" fill="#d9d6ee" opacity="0.45"/>
<circle cx="944.74" cy="236.0" r="0.95" fill="#d9d6ee" opacity="0.8"/>
<circle cx="944.74" cy="244.0" r="0.95" fill="#d9d6ee" opacity="0.8"/>
<circle cx="944.74" cy="252.0" r="0.60" fill="#d9d6ee" opacity="0.45"/>
<circle cx="944.74" cy="263.0" r="0.60" fill="#d9d6ee" opacity="0.45"/>
<circle cx="944.74" cy="274.0" r="0.60" fill="#d9d6ee" opacity="0.45"/>
<circle cx="944.74" cy="284.0" r="0.60" fill="#d9d6ee" opacity="0.45"/>
<circle cx="944.74" cy="297.0" r="0.95" fill="#d9d6ee" opacity="0.8"/>
<circle cx="944.74" cy="303.6" r="0.95" fill="#d9d6ee" opacity="0.8"/>
<rect x="943.84" y="237" width="1.8" height="6" rx="0.6" fill="none" stroke="#b7b3d6" stroke-width="0.4" opacity="0.8"/>
<rect x="958.58" y="166.6" width="0.8" height="145.7" fill="#a8a3cc" opacity="0.5"/>
<circle cx="958.98" cy="176.0" r="0.95" fill="#d9d6ee" opacity="0.8"/>
<circle cx="958.98" cy="182.8" r="0.95" fill="#d9d6ee" opacity="0.8"/>
<circle cx="958.98" cy="194.0" r="0.60" fill="#d9d6ee" opacity="0.45"/>
<circle cx="958.98" cy="205.0" r="0.60" fill="#d9d6ee" opacity="0.45"/>
<circle cx="958.98" cy="217.5" r="0.60" fill="#d9d6ee" opacity="0.45"/>
<circle cx="958.98" cy="229.0" r="0.60" fill="#d9d6ee" opacity="0.45"/>
<circle cx="958.98" cy="236.0" r="0.95" fill="#d9d6ee" opacity="0.8"/>
<circle cx="958.98" cy="244.0" r="0.95" fill="#d9d6ee" opacity="0.8"/>
<circle cx="958.98" cy="252.0" r="0.60" fill="#d9d6ee" opacity="0.45"/>
<circle cx="958.98" cy="263.0" r="0.60" fill="#d9d6ee" opacity="0.45"/>
<circle cx="958.98" cy="274.0" r="0.60" fill="#d9d6ee" opacity="0.45"/>
<circle cx="958.98" cy="284.0" r="0.60" fill="#d9d6ee" opacity="0.45"/>
<circle cx="958.98" cy="297.0" r="0.95" fill="#d9d6ee" opacity="0.8"/>
<circle cx="958.98" cy="303.6" r="0.95" fill="#d9d6ee" opacity="0.8"/>
<rect x="958.08" y="237" width="1.8" height="6" rx="0.6" fill="none" stroke="#b7b3d6" stroke-width="0.4" opacity="0.8"/>
<rect x="972.82" y="166.6" width="0.8" height="145.7" fill="#a8a3cc" opacity="0.5"/>
<circle cx="973.22" cy="176.0" r="0.95" fill="#d9d6ee" opacity="0.8"/>
<circle cx="973.22" cy="182.8" r="0.95" fill="#d9d6ee" opacity="0.8"/>
<circle cx="973.22" cy="194.0" r="0.60" fill="#d9d6ee" opacity="0.45"/>
<circle cx="973.22" cy="205.0" r="0.60" fill="#d9d6ee" opacity="0.45"/>
<circle cx="973.22" cy="217.5" r="0.60" fill="#d9d6ee" opacity="0.45"/>
<circle cx="973.22" cy="229.0" r="0.60" fill="#d9d6ee" opacity="0.45"/>
<circle cx="973.22" cy="236.0" r="0.95" fill="#d9d6ee" opacity="0.8"/>
<circle cx="973.22" cy="244.0" r="0.95" fill="#d9d6ee" opacity="0.8"/>
<circle cx="973.22" cy="252.0" r="0.60" fill="#d9d6ee" opacity="0.45"/>
<circle cx="973.22" cy="263.0" r="0.60" fill="#d9d6ee" opacity="0.45"/>
<circle cx="973.22" cy="274.0" r="0.60" fill="#d9d6ee" opacity="0.45"/>
<circle cx="973.22" cy="284.0" r="0.60" fill="#d9d6ee" opacity="0.45"/>
<circle cx="973.22" cy="297.0" r="0.95" fill="#d9d6ee" opacity="0.8"/>
<circle cx="973.22" cy="303.6" r="0.95" fill="#d9d6ee" opacity="0.8"/>
<rect x="972.32" y="237" width="1.8" height="6" rx="0.6" fill="none" stroke="#b7b3d6" stroke-width="0.4" opacity="0.8"/>
</g></svg>
<svg class="a" style="left:0;top:0" width="1060" height="760" viewBox="0 0 1060 760" font-family="Liberation Sans, sans-serif" fill="none">
<rect x="661.40" y="479.20" width="100.20" height="240.90" stroke="#2b2b2b" stroke-width="0.8" fill="#fff"/>
<rect x="663.60" y="481.60" width="95.90" height="236.40" rx="1.5" stroke="#2b2b2b" stroke-width="0.6" fill="#fff"/>
<path d="M666.26 482.10V717.50M690.24 482.10V717.50M714.21 482.10V717.50M738.19 482.10V717.50" stroke="#333" stroke-width="0.7"/>
<path d="M668.93 482.10V717.50M692.90 482.10V717.50M716.88 482.10V717.50M740.85 482.10V717.50" stroke="#5a5a5a" stroke-width="0.7"/>
<path d="M671.59 482.10V717.50M695.57 482.10V717.50M719.54 482.10V717.50M743.52 482.10V717.50" stroke="#808080" stroke-width="0.7"/>
<path d="M674.26 482.10V717.50M698.23 482.10V717.50M722.21 482.10V717.50M746.18 482.10V717.50" stroke="#222" stroke-width="0.7"/>
<path d="M676.92 482.10V717.50M684.91 482.10V717.50M700.89 482.10V717.50M708.89 482.10V717.50M724.87 482.10V717.50M732.86 482.10V717.50M748.84 482.10V717.50M756.84 482.10V717.50" stroke="#1c1c1c" stroke-width="0.7"/>
<path d="M679.58 482.10V717.50M703.56 482.10V717.50M727.53 482.10V717.50M751.51 482.10V717.50" stroke="#a0a0a0" stroke-width="0.7"/>
<path d="M682.25 482.10V717.50M706.22 482.10V717.50M730.20 482.10V717.50M754.17 482.10V717.50" stroke="#3a3a3a" stroke-width="0.7"/>
<path d="M687.28 481.60V718.00" stroke="#9c9c9c" stroke-width="1.9"/>
<path d="M687.98 481.60V718.00" stroke="#333" stroke-width="0.5"/>
<path d="M711.25 481.60V718.00" stroke="#9c9c9c" stroke-width="1.9"/>
<path d="M713.15 481.60V718.00" stroke="#1a1a1a" stroke-width="0.8"/>
<path d="M735.23 481.60V718.00" stroke="#9c9c9c" stroke-width="1.9"/>
<path d="M735.92 481.60V718.00" stroke="#333" stroke-width="0.5"/>
<path d="M663.60 494.73H759.50M663.60 507.87H759.50M663.60 521.00H759.50M663.60 534.13H759.50M663.60 547.27H759.50M663.60 560.40H759.50M663.60 573.53H759.50M663.60 586.67H759.50M663.60 599.80H759.50M663.60 612.93H759.50M663.60 626.07H759.50M663.60 639.20H759.50M663.60 652.33H759.50M663.60 665.47H759.50M663.60 678.60H759.50M663.60 691.73H759.50M663.60 704.87H759.50" stroke="#1e1e1e" stroke-width="0.75"/>
<path d="M665.60 481.90L757.40 481.90" stroke="#0a0a0a" stroke-width="1.7"/>
<path d="M666.00 717.60L757.50 717.60" stroke="#222" stroke-width="0.9"/>
<path d="M661.40 457.50L661.40 479.20" stroke="#8a8a8a" stroke-width="0.5"/>
<path d="M761.60 457.50L761.60 479.20" stroke="#8a8a8a" stroke-width="0.5"/>
<path d="M661.40 461.50L761.60 461.50" stroke="#555" stroke-width="0.6"/>
<text x="711.50" y="460.20" font-size="6.8" fill="#333" text-anchor="middle">705</text>
<path d="M629.50 479.20L661.40 479.20" stroke="#555" stroke-width="0.6"/>
<path d="M629.50 720.10L661.40 720.10" stroke="#555" stroke-width="0.6"/>
<path d="M632.30 479.20L632.30 720.10" stroke="#555" stroke-width="0.6"/>
<text x="631.00" y="599.00" font-size="6.8" fill="#333" text-anchor="middle" transform="rotate(-90 631.00 599.00)">1580</text>
<text x="709.80" y="739.40" font-size="4.3" fill="#555" text-anchor="middle">Front</text>
<rect x="791.4" y="479" width="5" height="241.1" stroke="#2b2b2b" stroke-width="0.6" fill="#fff"/>
<path d="M791.40 457.00L791.40 479.00" stroke="#555" stroke-width="0.5"/>
<path d="M796.40 457.00L796.40 479.00" stroke="#555" stroke-width="0.5"/>
<path d="M788.50 458.30L806.00 458.30" stroke="#555" stroke-width="0.6"/>
<text x="802.20" y="457.00" font-size="6.6" fill="#333" text-anchor="middle">35</text>
<text x="794.00" y="740.40" font-size="4.3" fill="#555" text-anchor="middle">Side</text>
<rect x="827.30" y="479.10" width="101.20" height="241.00" stroke="#8a8a8a" stroke-width="0.6" fill="#fff"/>
<path d="M827.30 479.10L928.50 479.10" stroke="#2b2b2b" stroke-width="0.9"/>
<path d="M827.30 720.10L928.50 720.10" stroke="#2b2b2b" stroke-width="0.8"/>
<rect x="831.40" y="483.60" width="92.90" height="231.90" stroke="#555" stroke-width="0.7"/>
<path d="M831.40 483.60L924.30 483.60" stroke="#2b2b2b" stroke-width="0.9"/>
<path d="M829.30 484.00L829.30 716.00" stroke="#8a8a8a" stroke-width="0.4"/>
<path d="M926.40 484.00L926.40 716.00" stroke="#8a8a8a" stroke-width="0.4"/>
<path d="M827.30 720.10L831.40 715.50" stroke="#555" stroke-width="0.5"/>
<path d="M928.50 720.10L924.30 715.50" stroke="#555" stroke-width="0.5"/>
<circle cx="829.3" cy="493.3" r="0.7" fill="#444"/>
<circle cx="926.4" cy="493.3" r="0.7" fill="#444"/>
<circle cx="829.3" cy="538.2" r="0.7" fill="#444"/>
<circle cx="926.4" cy="538.2" r="0.7" fill="#444"/>
<circle cx="829.3" cy="660.8" r="0.7" fill="#444"/>
<circle cx="926.4" cy="660.8" r="0.7" fill="#444"/>
<circle cx="829.3" cy="698.5" r="0.7" fill="#444"/>
<circle cx="926.4" cy="698.5" r="0.7" fill="#444"/>
<circle cx="852.0" cy="479.2" r="0.6" fill="#444"/><circle cx="852.0" cy="720" r="0.6" fill="#444"/>
<circle cx="903.8" cy="479.2" r="0.6" fill="#444"/><circle cx="903.8" cy="720" r="0.6" fill="#444"/>
<path d="M827.30 455.50L827.30 479.10" stroke="#8a8a8a" stroke-width="0.5"/>
<path d="M928.50 455.50L928.50 479.10" stroke="#8a8a8a" stroke-width="0.5"/>
<path d="M827.30 457.60L928.50 457.60" stroke="#2b2b2b" stroke-width="0.7"/>
<text x="877.80" y="456.30" font-size="6.8" fill="#333" text-anchor="middle">705</text>
<path d="M830.80 466.00L830.80 484.00" stroke="#8a8a8a" stroke-width="0.5"/>
<path d="M925.20 466.00L925.20 484.00" stroke="#8a8a8a" stroke-width="0.5"/>
<path d="M830.80 468.10L925.20 468.10" stroke="#2b2b2b" stroke-width="0.7"/>
<text x="877.80" y="466.90" font-size="6.8" fill="#333" text-anchor="middle">662</text>
<path d="M928.50 479.10L953.50 479.10" stroke="#555" stroke-width="0.6"/>
<path d="M939.60 479.10L939.60 538.20" stroke="#2b2b2b" stroke-width="0.7"/>
<path d="M924.50 499.80L941.50 499.80" stroke="#555" stroke-width="0.5"/>
<path d="M924.50 538.20L941.50 538.20" stroke="#555" stroke-width="0.6"/>
<text x="938.30" y="489.60" font-size="6.8" fill="#333" text-anchor="middle" transform="rotate(-90 938.30 489.60)">140</text>
<text x="938.30" y="519.60" font-size="6.8" fill="#333" text-anchor="middle" transform="rotate(-90 938.30 519.60)">250</text>
<path d="M951.50 479.10L951.50 720.10" stroke="#555" stroke-width="0.6"/>
<path d="M928.50 720.10L953.50 720.10" stroke="#555" stroke-width="0.6"/>
<text x="950.20" y="599.50" font-size="6.8" fill="#333" text-anchor="middle" transform="rotate(-90 950.20 599.50)">1580</text>
<circle cx="926.1" cy="500.2" r="5.4" stroke="#555" stroke-width="0.6"/>
<text x="917.60" y="502.00" font-size="3.8" fill="#444" text-anchor="middle">A</text>
<path d="M924.50 600.60L941.50 587.00" stroke="#2b2b2b" stroke-width="0.7"/>
<text x="936.30" y="587.20" font-size="6.2" fill="#333" text-anchor="middle" transform="rotate(-39 936.30 587.20)">&#216;4</text>
<path d="M820.80 696.50L820.80 724.00" stroke="#2b2b2b" stroke-width="0.7"/>
<path d="M819.00 714.90L831.50 714.90" stroke="#555" stroke-width="0.5"/>
<path d="M819.00 720.10L828.00 720.10" stroke="#555" stroke-width="0.5"/>
<text x="819.80" y="703.60" font-size="6.2" fill="#333" text-anchor="middle" transform="rotate(-90 819.80 703.60)">30</text>
<rect x="872.3" y="483.8" width="11.4" height="9.8" rx="1.6" stroke="#222" stroke-width="0.9" fill="#fff"/>
<rect x="874.6" y="486.2" width="6.2" height="4.4" rx="0.6" stroke="#222" stroke-width="0.8" fill="#ddd"/>
<rect x="876" y="487.6" width="3.2" height="1.6" fill="#333"/>
<path d="M884.30 486.50L884.30 491.00" stroke="#222" stroke-width="1.2"/>
<path d="M874.80 493.60L873.60 500.20" stroke="#222" stroke-width="0.9"/>
<path d="M881.00 493.60L882.20 500.20" stroke="#222" stroke-width="0.9"/>
<path d="M876.80 493.60L876.80 499.00" stroke="#333" stroke-width="0.6"/>
<path d="M879.00 493.60L879.00 499.00" stroke="#333" stroke-width="0.6"/>
<circle cx="877.8" cy="509.2" r="7.3" stroke="#1a1a1a" stroke-width="1.3" fill="#fff"/>
<path d="M870.50 509.00L870.50 560.50" stroke="#333" stroke-width="0.7"/>
<path d="M885.40 509.00L885.40 560.50" stroke="#333" stroke-width="0.7"/>
<path d="M870.50 560.00L870.50 568.30" stroke="#222" stroke-width="1.8"/>
<path d="M885.40 560.00L885.40 565.50" stroke="#222" stroke-width="1.5"/>
<path d="M885.40 565.50L885.40 568.60" stroke="#333" stroke-width="0.7"/>
<text x="878.80" y="739.00" font-size="4.4" fill="#333" text-anchor="middle">Back</text>
<circle cx="979.1" cy="502" r="13.9" stroke="#555" stroke-width="0.6"/>
<path d="M982.3 494.8V506.8H973.6M973.8 497.6H980.4V506.8M976.8 497.6V506.8M969.8 500.8H974M969.8 504.6H974" stroke="#2a2a2a" stroke-width="0.8"/>
<path d="M980.40 497.40L982.60 493.20" stroke="#333" stroke-width="0.5"/>
<text x="979.40" y="494.40" font-size="5.2" fill="#222" text-anchor="middle">2</text>
<text x="970.60" y="504.40" font-size="4.6" fill="#222" text-anchor="middle">1</text>
<text x="979.80" y="515.20" font-size="3.8" fill="#333" text-anchor="middle">A</text>
<path d="M976.50 516.20L983.50 516.20" stroke="#8a8a8a" stroke-width="0.4"/>
</svg>
<svg class="a" style="left:0;top:0" width="1060" height="999" viewBox="0 0 1060 999" font-family="Liberation Sans, sans-serif">
<defs>
<linearGradient id="cb" x1="0" y1="0" x2="1" y2="0"><stop offset="0" stop-color="#1f8fe4"/><stop offset="0.25" stop-color="#1e88d8"/><stop offset="1" stop-color="#2a7cbf"/></linearGradient>
<linearGradient id="cg" x1="0" y1="0" x2="1" y2="1"><stop offset="0" stop-color="#c4c3c6"/><stop offset="1" stop-color="#b4b3b6"/></linearGradient>
</defs>
<path d="M591.8 840.2H604C608 840.2 610 840.3 614 841.2L1037.0 931.3V931.8H591.8Z" fill="url(#cb)"/>
<path d="M591.8 877.7H769.0V931.3H1037.0V958.2H591.8Z" fill="url(#cg)"/>
<path d="M591.8 823.5V958.2H1037.0" stroke="#555" stroke-width="0.8" fill="none"/>
<path d="M589.2 824.0h2.6M589.2 931.3h2.6" stroke="#555" stroke-width="0.6"/>
<text x="588.3" y="826.7" font-size="5.95" font-weight="bold" fill="#111" text-anchor="end">100%</text>
<text x="588.3" y="843.0" font-size="5.95" font-weight="bold" fill="#2a84c6" text-anchor="end">97%</text>
<text x="588.3" y="879.6" font-size="5.95" font-weight="bold" fill="#111" text-anchor="end">90%</text>
<text x="588.3" y="933.4" font-size="5.95" font-weight="bold" fill="#111" text-anchor="end">80%</text>
<text x="588.3" y="960.4" font-size="5.95" font-weight="bold" fill="#111" text-anchor="end">0%</text>
<text x="613.0" y="965.2" font-size="6.35" font-weight="bold" fill="#111" text-anchor="middle">1 years</text>
<text x="684.6" y="965.2" font-size="6.35" font-weight="bold" fill="#111" text-anchor="middle">5 years</text>
<text x="771.4" y="965.2" font-size="6.35" font-weight="bold" fill="#111" text-anchor="middle">10 years</text>
<text x="860.2" y="965.2" font-size="6.35" font-weight="bold" fill="#111" text-anchor="middle">15 years</text>
<text x="950.2" y="965.2" font-size="6.35" font-weight="bold" fill="#111" text-anchor="middle">20 years</text>
<text x="1039.4" y="965.2" font-size="6.35" font-weight="bold" fill="#111" text-anchor="middle">25 years</text>
<text x="1018.4" y="835.3" font-size="6.3" font-weight="bold" fill="#111" text-anchor="end">ISOLA Solar Linear Performance Warranty</text>
<text x="1018.4" y="845.7" font-size="6.3" font-weight="bold" fill="#111" text-anchor="end">Standard Warranty</text>
<rect x="1021.7" y="830.5" width="11.2" height="5.2" fill="#2a80c4"/>
<rect x="1021.7" y="841" width="11.2" height="5.2" fill="#bdbdbf"/>
<text x="658.8" y="843.5" font-size="15" fill="#2e7fb6" transform="rotate(11.7 658.8 843.5)">Additional Value from ISOLA Linear Warranty</text>
</svg>
<svg class="a" style="left:0;top:0" width="540" height="999" viewBox="0 0 540 999" font-family="Liberation Sans, sans-serif">
<defs>
<linearGradient id="gr" x1="0.25" y1="1" x2="0.8" y2="0.05"><stop offset="0" stop-color="#8cc540"/><stop offset="0.28" stop-color="#4fa03a"/><stop offset="0.5" stop-color="#1c7d38"/><stop offset="1" stop-color="#127a3c"/></linearGradient>
<linearGradient id="tb" x1="0" y1="0" x2="0" y2="1"><stop offset="0" stop-color="#b9cfe0"/><stop offset="0.35" stop-color="#5b8fba"/><stop offset="1" stop-color="#2f6a9c"/></linearGradient>
<linearGradient id="tv" x1="0" y1="0.3" x2="1" y2="0.7"><stop offset="0" stop-color="#3f9ad4"/><stop offset="0.45" stop-color="#2a63b0"/><stop offset="1" stop-color="#1c469b"/></linearGradient>
<linearGradient id="tr" x1="0" y1="0" x2="0" y2="1"><stop offset="0" stop-color="#9a9a9a"/><stop offset="1" stop-color="#6e6e6e"/></linearGradient>
<pattern id="idg" x="420.6" y="810.9" width="2.6" height="2.6" patternUnits="userSpaceOnUse"><rect width="2.6" height="2.6" fill="#b3ade0"/><rect x="0.45" y="0.45" width="1.9" height="1.9" fill="#7d74c0"/></pattern>
</defs>
<circle cx="27.7" cy="835.5" r="14.65" fill="none" stroke="url(#gr)" stroke-width="8.5"/>
<circle cx="27.7" cy="835.5" r="11.4" fill="none" stroke="#9fd05a" stroke-width="1.2" opacity="0.55"/>
<path d="M15.6 843.8A14.65 14.65 0 0 1 14.2 829.6" fill="none" stroke="#2f8f3e" stroke-width="8.5" opacity="0.6"/>
<path d="M91.31 816.81A17.70 17.70 0 1 0 91.31 852.19L91.48 845.90A11.40 11.40 0 1 1 91.48 823.10Z" fill="#0d0808"/>
<path d="M117.61 816.81A17.70 17.70 0 1 0 117.61 852.19L117.78 845.90A11.40 11.40 0 1 1 117.78 823.10Z" fill="#0d0808"/>
<rect x="105.5" y="831.8" width="9.7" height="5.4" fill="#0d0808"/>
<rect x="143.9" y="816.6" width="34.4" height="35" fill="#1d5fb4"/>
<text x="160.6" y="839.4" font-family="Liberation Serif, serif" font-weight="bold" font-size="28" fill="#fff" text-anchor="middle" textLength="29.6" lengthAdjust="spacingAndGlyphs">IEC</text>
<path d="M146 842.8H173M146 845H175.4M146 847.2H172" stroke="#fff" stroke-width="0.8" opacity="0.9"/>
<circle cx="174.4" cy="843.8" r="1.6" fill="#fff"/>
<polygon points="240.14,841.35 229.75,851.74 215.05,851.74 204.66,841.35 204.66,826.65 215.05,816.26 229.75,816.26 240.14,826.65" fill="url(#tv)"/>
<polygon points="237.37,840.20 228.60,848.97 216.20,848.97 207.43,840.20 207.43,827.80 216.20,819.03 228.60,819.03 237.37,827.80" fill="none" stroke="#9db6dc" stroke-width="0.8" stroke-dasharray="1.2 0.8"/>
<circle cx="222.4" cy="834.0" r="11" fill="#cfd2d8" stroke="#e9ecef" stroke-width="0.8"/>
<path d="M205 833.8H211.5M233 833.8H239.5" stroke="#dfe6f2" stroke-width="0.7"/>
<text x="222.2" y="837.6" font-size="11" font-weight="bold" fill="#111" text-anchor="middle" textLength="18.6" lengthAdjust="spacingAndGlyphs">TUV</text>
<text x="222.4" y="843" font-size="4.4" font-weight="bold" fill="#333" text-anchor="middle">S&#220;D</text>
<g fill="none" stroke="#8ecbf0" stroke-width="1.1">
<circle cx="275.4" cy="833.8" r="19.4"/>
<ellipse cx="275.4" cy="833.8" rx="10.7" ry="19.4"/>
<ellipse cx="275.4" cy="833.8" rx="3.5" ry="19.4"/>
<path d="M258.8 823.8H292.0M256.7 828.8H294.1M256.7 838.8H294.1M258.8 843.8H292.0"/>
</g>
<rect x="251.5" y="823.4" width="48" height="21.4" fill="#fff" opacity="0.55"/>
<text x="275.6" y="843.6" font-family="Liberation Serif, serif" font-weight="bold" font-size="27" fill="#cf8f3e" stroke="#56aed6" stroke-width="1.3" paint-order="stroke" text-anchor="middle" textLength="45.4" lengthAdjust="spacingAndGlyphs">ISO</text>
<path d="M338 828C333 817.6 318 810 311.8 817.6C307.6 826.4 318.5 841.6 332.4 854.8C322 841.6 315.4 830.6 317.4 823.2C320 816.4 331 820 338 828Z" fill="#4a9fc6"/>
<path d="M331.6 823.4C335 816.2 345.6 815 349.8 820.6C354.4 828.6 345 842.2 332.4 854.8C342.4 842.6 349.4 831.4 346.4 824.2C343.6 818.8 335.6 819 331.6 823.4Z" fill="#a9d3ea"/>
<text x="332" y="840" font-size="8.4" fill="#5a5a5a" text-anchor="middle" textLength="12.6" lengthAdjust="spacingAndGlyphs">MCS</text>
<path d="M387.0 811.2A21.2 21.2 0 1 0 407.6 836.6L397.6 836.6A11.8 11.8 0 1 1 387.0 820.6Z" fill="#1c3c92"/>
<rect x="394.6" y="830.0" width="12.8" height="6.6" fill="#1c3c92"/>
<rect x="380.2" y="822.8" width="20.8" height="4.6" rx="0.8" fill="#15296e"/>
<path d="M382.4 829.8h14M383.4 831.6h11M384.9 833.4h8" stroke="#b9c0cf" stroke-width="0.5"/>
<path d="M384.0 825.1h13" stroke="#c9d3ee" stroke-width="0.7"/>
<path d="M389.4 811.2A22 22 0 0 1 406.0 823.4" fill="none" stroke="#c3d0ea" stroke-width="0.7"/>
<path id="gp" d="M371.8 839.4A16.2 16.2 0 0 0 399.8 841.6" fill="none"/>
<text font-size="4.6" fill="#e6ecfa" letter-spacing="0.15"><textPath href="#gp" startOffset="3%">Type Tested</textPath></text>
<rect x="420.6" y="810.9" width="41.7" height="43.7" fill="url(#idg)"/>
<path d="M462.3 810.9V854.6H420.6L432.4 848.4L434.6 843.6L441.6 840.2L443.4 833.6L450.4 830.2L456.6 822.4L458.6 814.2Z" fill="#23226b"/>
<path d="M420.6 854.6L432.4 848.4L434.6 843.6L441.6 840.2L443.4 833.6L450.4 830.2L456.6 822.4L458.6 814.2L462.3 810.9" fill="none" stroke="#dcdaf4" stroke-width="0.7"/>
<text x="446.8" y="851.8" font-size="16.4" font-weight="bold" fill="#fff" text-anchor="middle" textLength="25.4" lengthAdjust="spacingAndGlyphs">IDCOL</text>
<rect x="481.8" y="812" width="42.4" height="43.2" rx="4.6" fill="#fff" stroke="url(#tr)" stroke-width="2.4"/>
<path d="M484 844.4H522V850.6A3.4 3.4 0 0 1 518.6 854H487.4A3.4 3.4 0 0 1 484 850.6Z" fill="url(#tb)"/>
<path d="M503.4 818.4L512 833.2H494.8Z" fill="none" stroke="#2b7cae" stroke-width="2.8" stroke-linejoin="round"/>
<path d="M497.6 830.4C500.6 827.8 505.4 831.6 510 828.6" fill="none" stroke="#2b7cae" stroke-width="1.6"/>
<text x="503" y="842" font-size="4.5" font-weight="bold" fill="#333" text-anchor="middle" textLength="30" lengthAdjust="spacingAndGlyphs">T&#220;VRheinland</text>
<text x="503" y="851.4" font-size="4.5" fill="#eef2f6" text-anchor="middle" textLength="22" lengthAdjust="spacingAndGlyphs">CERTIFIED</text>
<rect x="13.3" y="888" width="35.2" height="36.9" rx="4.2" fill="#3e3c3c"/>
<text x="31" y="912.6" font-size="27.4" font-weight="bold" fill="#fff" text-anchor="middle" textLength="26.6" lengthAdjust="spacingAndGlyphs">12</text>
<text x="30.9" y="920.7" font-size="8.2" fill="#fff" stroke="#fff" stroke-width="0.15" text-anchor="middle" textLength="26" lengthAdjust="spacingAndGlyphs">YEARS</text>
<rect x="14.1" y="941.9" width="35.4" height="38" rx="4.2" fill="#3e3c3c"/>
<text x="31.7" y="965" font-size="27" font-weight="bold" fill="#fff" text-anchor="middle" textLength="26.4" lengthAdjust="spacingAndGlyphs">25</text>
<text x="31.5" y="974.8" font-size="7.4" fill="#fff" stroke="#fff" stroke-width="0.1" text-anchor="middle" textLength="23.4" lengthAdjust="spacingAndGlyphs">YEARS</text>
</svg>
<div class="g" style="left:65px;top:900.3px">Guarantee on product material and workmanship</div>
<div class="g" style="left:68.6px;top:952.5px">Linear Power output warranty</div>

</body></html>
